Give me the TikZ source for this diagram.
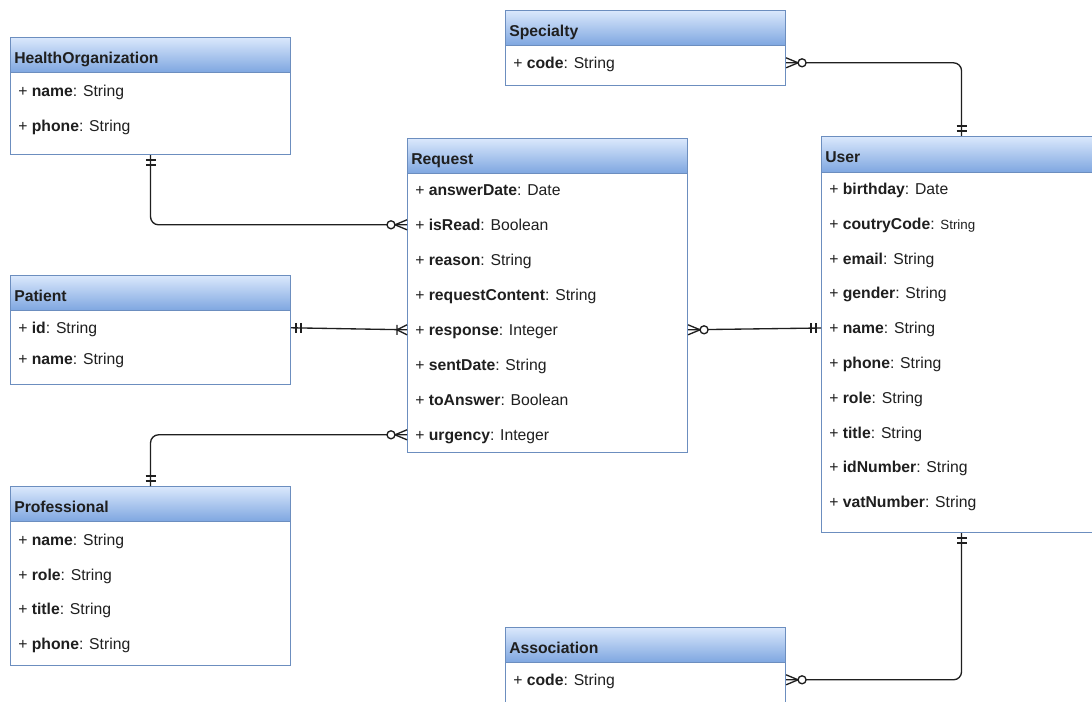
\documentclass[tikz,border=0pt]{standalone}
\usepackage{fontspec}
\setmainfont{Liberation Sans}
\usetikzlibrary{positioning,calc}
\definecolor{edge}{HTML}{6C8EBF}
\definecolor{headtop}{HTML}{DAE8FC}
\definecolor{headbot}{HTML}{7EA6E0}
\definecolor{ink}{HTML}{1F1F1F}

\tikzset{
  entity/.style={draw=edge, line width=0.8pt, fill=white, anchor=north west,
    inner sep=0pt, minimum width=210pt},
  head/.style={draw=edge, line width=0.8pt, top color=headtop, bottom color=headbot,
    anchor=north west, inner sep=0pt, minimum width=210pt, minimum height=26.25pt},
  title/.style={anchor=west, inner sep=0pt, xshift=3pt, yshift=-1.8pt, text height=8.5pt, text depth=0pt,
    font=\fontsize{11.8}{14}\selectfont\bfseries, text=ink},
  attr/.style={anchor=west, inner sep=0pt, yshift=-0.6pt, text height=8.5pt, text depth=0pt,
    font=\fontsize{11.8}{14}\selectfont, text=ink},
  rel/.style={draw=ink, line width=1pt, rounded corners=6pt},
  one/.pic={\draw[ink, line width=1pt] (5,-5) -- (5,5) (10,-5) -- (10,5);},
  onemany/.pic={\draw[ink, line width=1pt] (0,5) -- (10,0) -- (0,-5) (10,-5) -- (10,5);},
  zmany/.pic={\draw[ink, line width=1pt] (0,5) -- (12,0) -- (0,-5);
    \draw[ink, line width=1pt, fill=white] (16,0) circle (3pt);}
}

\begin{document}
\begin{tikzpicture}[x=0.75pt, y=-0.75pt]
  \useasboundingbox (0,0) rectangle (1092,702);
  \clip (0,0) rectangle (1092,702);

  % HealthOrganization
  \node[entity, minimum height=87.75pt] (ho) at (10,37) {};
  \node[head] (ho-h) at (10,37) {};
  \node[title] at (ho-h.west) {HealthOrganization};
  \foreach \f/\t [count=\i] in {name/String, phone/String}
    \node[attr] (ho-\i) at (18,55+35*\i) {+ \textbf{\f}: \t};

  % Patient
  \node[entity, minimum height=81.75pt] (pat) at (10,275) {};
  \node[head] (pat-h) at (10,275) {};
  \node[title] at (pat-h.west) {Patient};
  \foreach \f/\t [count=\i] in {id/String, name/String}
    \node[attr] (pat-\i) at (18,296+31*\i) {+ \textbf{\f}: \t};

  % Professional
  \node[entity, minimum height=134.25pt] (prof) at (10,486) {};
  \node[head] (prof-h) at (10,486) {};
  \node[title] at (prof-h.west) {Professional};
  \foreach \f/\t [count=\i] in {name/String, role/String, title/String, phone/String}
    \node[attr] (prof-\i) at (18,504.3+34.7*\i) {+ \textbf{\f}: \t};

  % Specialty
  \node[entity, minimum height=56.25pt] (spec) at (505,10) {};
  \node[head] (spec-h) at (505,10) {};
  \node[title] at (spec-h.west) {Specialty};
  \node[attr] (spec-1) at (513,62) {+ \textbf{code}: String};

  % Request
  \node[entity, minimum height=235.5pt] (req) at (407,138) {};
  \node[head] (req-h) at (407,138) {};
  \node[title] at (req-h.west) {Request};
  \foreach \f/\t [count=\i] in {answerDate/Date, isRead/Boolean, reason/String,
      requestContent/String, response/Integer, sentDate/String, toAnswer/Boolean, urgency/Integer}
    \node[attr] (req-\i) at (415,154+35*\i) {+ \textbf{\f}: \t};

  % User
  \node[entity, minimum height=297pt] (user) at (821,136) {};
  \node[head, minimum height=27pt] (user-h) at (821,136) {};
  \node[title] at (user-h.west) {User};
  \foreach \f/\t [count=\i] in {birthday/Date, coutryCode/{{\fontsize{10}{12}\selectfont String}},
      email/String, gender/String, name/String, phone/String, role/String, title/String,
      idNumber/String, vatNumber/String}
    \node[attr] (user-\i) at (829,153.2+34.8*\i) {+ \textbf{\f}: \t};

  % Association
  \node[entity, minimum height=67.5pt] (assoc) at (505,627) {};
  \node[head] (assoc-h) at (505,627) {};
  \node[title] at (assoc-h.west) {Association};
  \node[attr] (assoc-1) at (513,679) {+ \textbf{code}: String};

  % relations
  \draw[rel] (ho.south) |- (req-2 -| req.west);
  \draw[rel] (pat-1 -| pat.east) -- (req-5 -| req.west);
  \draw[rel] (prof.north) |- (req-8 -| req.west);
  \draw[rel] (req-5 -| req.east) -- (user-5 -| user.west);
  \draw[rel] (spec-1 -| spec.east) -| (user.north);
  \draw[rel] (user.south) |- (assoc-1 -| assoc.east);

  % cardinality ends
  \pic[rotate=-90] at (ho.south) {one};
  \pic[rotate=180] at (req-2 -| req.west) {zmany};
  \pic at (pat-1 -| pat.east) {one};
  \pic[rotate=180] at (req-5 -| req.west) {onemany};
  \pic[rotate=90] at (prof.north) {one};
  \pic[rotate=180] at (req-8 -| req.west) {zmany};
  \pic at (req-5 -| req.east) {zmany};
  \pic[rotate=180] at (user-5 -| user.west) {one};
  \pic at (spec-1 -| spec.east) {zmany};
  \pic[rotate=90] at (user.north) {one};
  \pic[rotate=-90] at (user.south) {one};
  \pic at (assoc-1 -| assoc.east) {zmany};
\end{tikzpicture}
\end{document}
